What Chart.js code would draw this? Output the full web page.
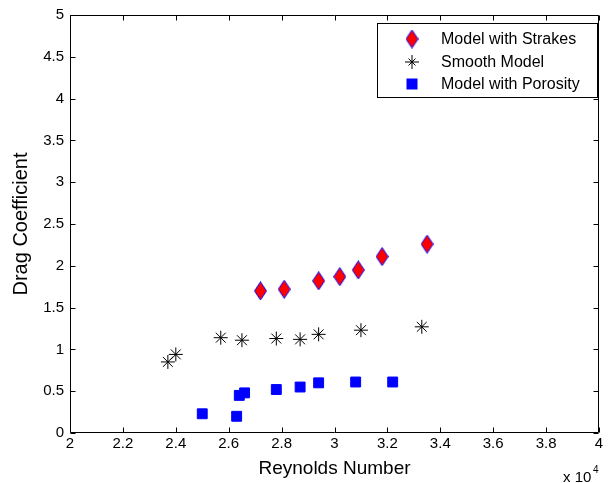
<!DOCTYPE html>
<html>
<head>
<meta charset="utf-8">
<script src="https://cdn.jsdelivr.net/npm/chart.js@4.4.0/dist/chart.umd.min.js"></script>
<style>
  html, body { margin: 0; padding: 0; background: #fff; }
</style>
</head>
<body>
<canvas id="chart" width="608" height="483"></canvas>
<script>
// données (Re en x 10^4)
const strakesRe = [2.72, 2.81, 2.94, 3.02, 3.09, 3.18, 3.35];
const strakesCd = [1.70, 1.72, 1.82, 1.87, 1.95, 2.11, 2.26];
const smoothRe = [2.37, 2.40, 2.57, 2.65, 2.78, 2.87, 2.94, 3.10, 3.33];
const smoothCd = [0.85, 0.94, 1.14, 1.11, 1.13, 1.12, 1.18, 1.23, 1.27];
const porosityRe = [2.50, 2.63, 2.64, 2.66, 2.78, 2.87, 2.94, 3.08, 3.22];
const porosityCd = [0.23, 0.20, 0.45, 0.48, 0.52, 0.55, 0.60, 0.61, 0.61];

const xTicks = [2, 2.2, 2.4, 2.6, 2.8, 3, 3.2, 3.4, 3.6, 3.8, 4];
const xTickLabels = ['2', '2.2', '2.4', '2.6', '2.8', '3', '3.2', '3.4', '3.6', '3.8', '4'];
const yTicks = [0, 0.5, 1, 1.5, 2, 2.5, 3, 3.5, 4, 4.5, 5];
const yTickLabels = ['0', '0.5', '1', '1.5', '2', '2.5', '3', '3.5', '4', '4.5', '5'];

const seriesNames = ['Model with Strakes', 'Smooth Model', 'Model with Porosity'];

const FONT = 'Liberation Sans, Arial, Helvetica, sans-serif';

// losange rouge bordé de bleu (comme le marqueur 'd' de matlab)
function makeDiamond() {
  const c = document.createElement('canvas');
  c.width = 13; c.height = 19;
  const g = c.getContext('2d');
  g.beginPath();
  g.moveTo(6.5, 0.5);
  g.lineTo(12.5, 9.5);
  g.lineTo(6.5, 18.5);
  g.lineTo(0.5, 9.5);
  g.closePath();
  g.fillStyle = '#ff0000';
  g.fill();
  g.strokeStyle = '#0000ff';
  g.lineWidth = 1;
  g.stroke();
  return c;
}
const diamond = makeDiamond();

const toXY = (xs, ys) => xs.map((x, i) => ({ x: x, y: ys[i] }));

// boite + ticks vers l'intérieur, légende, "x 10^4"
const matlabAxes = {
  id: 'matlabAxes',
  afterDatasetsDraw(chart) {
    const ctx = chart.ctx;
    const a = chart.chartArea;
    const sx = chart.scales.x, sy = chart.scales.y;
    const L = Math.round(a.left) + 0.5, R = Math.round(a.right) - 0.5;
    const T = Math.round(a.top) + 0.5, B = Math.round(a.bottom) - 0.5;
    const tl = 5;
    ctx.save();
    ctx.strokeStyle = '#000';
    ctx.lineWidth = 1;
    ctx.beginPath();
    ctx.rect(L, T, R - L, B - T);
    xTicks.forEach(v => {
      const px = Math.round(sx.getPixelForValue(v)) + 0.5;
      ctx.moveTo(px, B); ctx.lineTo(px, B - tl);
      ctx.moveTo(px, T); ctx.lineTo(px, T + tl);
    });
    yTicks.forEach(v => {
      const py = Math.round(sy.getPixelForValue(v)) + 0.5;
      ctx.moveTo(L, py); ctx.lineTo(L + tl, py);
      ctx.moveTo(R, py); ctx.lineTo(R - tl, py);
    });
    ctx.stroke();

    // légende
    const lx = 377.5, ly = 23.5, lw = 220, lh = 74;
    ctx.fillStyle = '#fff';
    ctx.fillRect(lx, ly, lw, lh);
    ctx.strokeRect(lx, ly, lw, lh);
    const rows = [39, 62, 84];
    const mx = 412;
    ctx.font = '16px ' + FONT;
    ctx.fillStyle = '#000';
    ctx.textBaseline = 'middle';
    ctx.textAlign = 'left';
    seriesNames.forEach((name, i) => {
      ctx.fillText(name, 441, rows[i] + 1);
    });
    // marqueurs de la légende
    ctx.drawImage(diamond, mx - 6.5, rows[0] - 9.5);
    ctx.beginPath();
    const r = 7, cy = rows[1];
    for (let k = 0; k < 4; k++) {
      const ang = k * Math.PI / 4;
      const len = k % 2 ? r * 0.7071 : r;
      const dx = Math.cos(ang) * len;
      const dy = Math.sin(ang) * len;
      ctx.moveTo(mx - dx, cy - dy); ctx.lineTo(mx + dx, cy + dy);
    }
    ctx.stroke();
    ctx.fillStyle = '#0000ff';
    ctx.fillRect(mx - 5.5, rows[2] - 5.5, 11, 11);

    // x 10^4
    ctx.fillStyle = '#000';
    ctx.textBaseline = 'alphabetic';
    ctx.font = '15px ' + FONT;
    ctx.fillText('x 10', 563, 482);
    ctx.font = '10px ' + FONT;
    ctx.fillText('4', 593, 473);
    ctx.restore();
  }
};

new Chart(document.getElementById('chart'), {
  type: 'scatter',
  data: {
    datasets: [{
      label: seriesNames[0],
      data: toXY(strakesRe, strakesCd),
      pointStyle: diamond,
      pointRadius: 7
    }, {
      label: seriesNames[1],
      data: toXY(smoothRe, smoothCd),
      pointStyle: 'star',
      pointRadius: 7,
      borderColor: '#000',
      backgroundColor: '#000',
      borderWidth: 1
    }, {
      label: seriesNames[2],
      data: toXY(porosityRe, porosityCd),
      pointStyle: 'rect',
      pointRadius: 7,
      borderColor: '#0000ff',
      backgroundColor: '#0000ff',
      borderWidth: 1
    }]
  },
  options: {
    responsive: false,
    animation: false,
    layout: { padding: { left: 0, right: 9, top: 15, bottom: 0 } },
    plugins: {
      legend: { display: false },
      tooltip: { enabled: false }
    },
    scales: {
      x: {
        type: 'linear',
        min: 2,
        max: 4,
        afterBuildTicks: s => { s.ticks = xTicks.map(v => ({ value: v })); },
        afterFit: s => { s.height = 50; },
        grid: { display: false, drawTicks: false },
        border: { display: false },
        ticks: {
          color: '#000',
          padding: 2,
          maxRotation: 0,
          font: { family: FONT, size: 15 },
          callback: (v, i) => xTickLabels[i]
        },
        title: {
          display: true,
          text: 'Reynolds Number',
          color: '#000',
          font: { family: FONT, size: 19 },
          padding: { top: 0, bottom: 3 }
        }
      },
      y: {
        type: 'linear',
        min: 0,
        max: 5,
        afterBuildTicks: s => { s.ticks = yTicks.map(v => ({ value: v })); },
        afterFit: s => { s.width = 70; },
        grid: { display: false, drawTicks: false },
        border: { display: false },
        ticks: {
          color: '#000',
          padding: 6,
          font: { family: FONT, size: 15 },
          callback: (v, i) => yTickLabels[i]
        },
        title: {
          display: true,
          text: 'Drag Coefficient',
          color: '#000',
          font: { family: FONT, size: 20 },
          padding: { top: 9, bottom: 0 }
        }
      }
    }
  },
  plugins: [matlabAxes]
});
</script>
</body>
</html>
